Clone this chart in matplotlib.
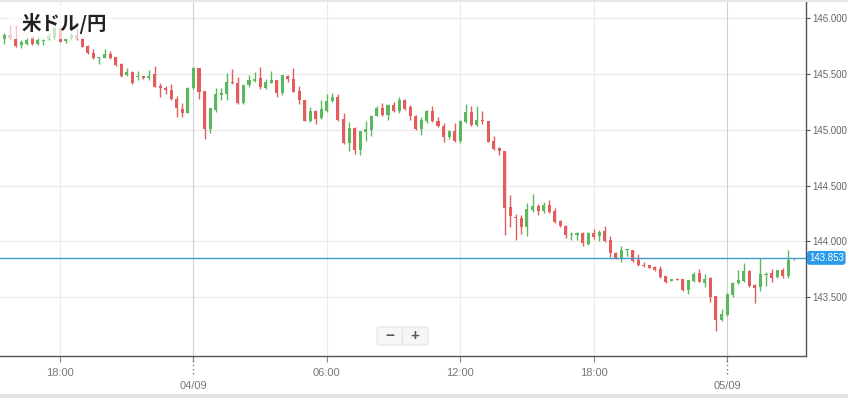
import matplotlib
matplotlib.use("Agg")
import matplotlib.pyplot as plt
import matplotlib.transforms as mtransforms
from matplotlib.patches import Rectangle, FancyBboxPatch

plt.rcParams["font.family"] = ["Liberation Sans", "DejaVu Sans"]

# 15-minute USD/JPY candles, 03/09 15:30 -> 05/09 03:00
opens = [145.812, 145.851, 145.812, 145.758, 145.767, 145.836, 145.770, 145.800, 145.812, 145.821,
         145.910, 145.800, 145.821, 145.851, 145.812, 145.755, 145.692, 145.645, 145.648, 145.680,
         145.651, 145.591, 145.489, 145.522, 145.471, 145.483, 145.463, 145.501, 145.394, 145.373,
         145.358, 145.277, 145.188, 145.155, 145.373, 145.552, 145.349, 145.006, 145.179, 145.313,
         145.319, 145.424, 145.424, 145.239, 145.403, 145.442, 145.463, 145.379, 145.424, 145.449,
         145.330, 145.485, 145.458, 145.350, 145.270, 145.076, 145.165, 145.106, 145.171, 145.255,
         145.291, 145.100, 144.882, 145.016, 144.816, 144.980, 144.995, 145.127, 145.195, 145.135,
         145.225, 145.165, 145.270, 145.201, 145.127, 145.010, 145.076, 145.171, 145.082, 145.037,
         144.932, 144.986, 144.897, 145.067, 145.156, 145.040, 145.091, 145.082, 144.897, 144.837,
         144.811, 144.309, 144.219, 144.213, 144.129, 144.279, 144.315, 144.270, 144.324, 144.270,
         144.180, 144.138, 144.057, 144.060, 144.078, 143.979, 144.078, 144.048, 144.090, 144.009,
         143.899, 143.855, 143.920, 143.926, 143.831, 143.793, 143.787, 143.772, 143.751, 143.689,
         143.650, 143.665, 143.665, 143.565, 143.645, 143.719, 143.624, 143.674, 143.511, 143.298,
         143.337, 143.520, 143.624, 143.645, 143.733, 143.609, 143.594, 143.704, 143.719, 143.683,
         143.742, 143.689, 143.840]
highs = [145.866, 145.940, 145.940, 145.806, 145.836, 145.842, 145.836, 145.812, 145.866, 145.925,
         145.925, 145.821, 145.866, 145.910, 145.836, 145.761, 145.722, 145.651, 145.722, 145.707,
         145.657, 145.603, 145.552, 145.528, 145.531, 145.486, 145.537, 145.573, 145.418, 145.394,
         145.409, 145.304, 145.239, 145.382, 145.567, 145.552, 145.352, 145.194, 145.373, 145.373,
         145.507, 145.546, 145.477, 145.403, 145.492, 145.522, 145.561, 145.454, 145.531, 145.449,
         145.494, 145.494, 145.559, 145.395, 145.270, 145.201, 145.180, 145.270, 145.324, 145.330,
         145.324, 145.150, 145.067, 145.025, 144.992, 145.082, 145.135, 145.210, 145.240, 145.234,
         145.249, 145.291, 145.279, 145.219, 145.135, 145.115, 145.174, 145.210, 145.115, 145.061,
         145.001, 145.061, 145.091, 145.234, 145.210, 145.210, 145.165, 145.082, 144.941, 144.843,
         144.811, 144.414, 144.249, 144.234, 144.348, 144.429, 144.339, 144.354, 144.375, 144.303,
         144.189, 144.150, 144.084, 144.084, 144.084, 144.084, 144.114, 144.105, 144.135, 144.045,
         143.905, 143.958, 143.935, 143.926, 143.884, 143.816, 143.787, 143.778, 143.781, 143.689,
         143.668, 143.671, 143.665, 143.659, 143.727, 143.757, 143.713, 143.683, 143.511, 143.396,
         143.535, 143.639, 143.748, 143.810, 143.742, 143.615, 143.852, 143.727, 143.757, 143.748,
         143.766, 143.920, 143.856]
lows = [145.767, 145.812, 145.746, 145.731, 145.761, 145.761, 145.761, 145.761, 145.806, 145.812,
        145.785, 145.782, 145.815, 145.806, 145.740, 145.680, 145.633, 145.591, 145.642, 145.636,
        145.576, 145.471, 145.483, 145.412, 145.448, 145.460, 145.448, 145.382, 145.292, 145.319,
        145.268, 145.119, 145.113, 145.149, 145.364, 145.277, 144.916, 144.976, 145.164, 145.268,
        145.268, 145.412, 145.233, 145.233, 145.382, 145.433, 145.364, 145.364, 145.418, 145.294,
        145.309, 145.425, 145.338, 145.231, 145.076, 145.070, 145.052, 145.100, 145.159, 145.249,
        145.082, 144.876, 144.807, 144.786, 144.771, 144.897, 144.941, 145.121, 145.129, 145.091,
        145.159, 145.150, 145.180, 145.091, 144.995, 144.950, 145.061, 145.070, 145.022, 144.888,
        144.921, 144.888, 144.882, 145.061, 145.031, 145.031, 145.052, 144.888, 144.822, 144.771,
        144.054, 144.129, 144.009, 144.069, 144.048, 144.264, 144.234, 144.255, 144.258, 144.165,
        144.129, 144.033, 144.015, 144.015, 143.958, 143.973, 144.024, 144.003, 143.994, 143.865,
        143.840, 143.816, 143.869, 143.816, 143.781, 143.772, 143.763, 143.733, 143.677, 143.624,
        143.648, 143.653, 143.559, 143.529, 143.633, 143.633, 143.594, 143.461, 143.201, 143.284,
        143.328, 143.506, 143.618, 143.633, 143.594, 143.452, 143.556, 143.603, 143.633, 143.677,
        143.674, 143.677, 143.838]
closes = [145.851, 145.827, 145.755, 145.785, 145.806, 145.770, 145.806, 145.806, 145.842, 145.910,
          145.791, 145.815, 145.851, 145.812, 145.746, 145.686, 145.642, 145.651, 145.680, 145.642,
          145.582, 145.483, 145.522, 145.418, 145.477, 145.463, 145.486, 145.388, 145.373, 145.358,
          145.277, 145.194, 145.155, 145.373, 145.552, 145.343, 145.006, 145.194, 145.322, 145.328,
          145.433, 145.418, 145.239, 145.403, 145.448, 145.460, 145.382, 145.433, 145.448, 145.330,
          145.488, 145.455, 145.344, 145.270, 145.076, 145.165, 145.100, 145.189, 145.261, 145.291,
          145.091, 144.882, 145.016, 144.816, 144.986, 145.007, 145.127, 145.195, 145.135, 145.225,
          145.165, 145.270, 145.186, 145.121, 145.010, 145.091, 145.165, 145.076, 145.031, 144.932,
          144.986, 144.897, 145.076, 145.156, 145.040, 145.091, 145.076, 144.891, 144.828, 144.807,
          144.300, 144.228, 144.210, 144.129, 144.288, 144.315, 144.270, 144.324, 144.264, 144.174,
          144.135, 144.054, 144.063, 144.078, 143.988, 144.078, 144.039, 144.084, 144.000, 143.895,
          143.852, 143.920, 143.929, 143.825, 143.787, 143.781, 143.766, 143.742, 143.683, 143.639,
          143.668, 143.659, 143.565, 143.653, 143.713, 143.639, 143.668, 143.506, 143.298, 143.349,
          143.529, 143.630, 143.653, 143.733, 143.603, 143.585, 143.707, 143.713, 143.677, 143.742,
          143.689, 143.837, 143.853]

tick_index = [10, 34, 58, 82, 106, 130]
tick_labels = ["18:00", "04/09", "06:00", "12:00", "18:00", "05/09"]
is_date = [False, True, False, False, False, True]
price_ticks = [143.5, 144.0, 144.5, 145.0, 145.5, 146.0]
last_price = 143.853
title = "米ドル/円"

up_color = "#5cb85c"
down_color = "#e35d5d"

fig = plt.figure(figsize=(8.48, 3.98), dpi=100, facecolor="white")
ax = fig.add_axes([0, 42 / 398, 806 / 848, 356 / 398])

x = list(range(len(opens)))
colors = [up_color if c >= o else down_color for o, c in zip(opens, closes)]
bottoms = [min(o, c) for o, c in zip(opens, closes)]
heights = [max(abs(c - o), 0.008) for o, c in zip(opens, closes)]

ax.vlines(x, lows, highs, colors=colors, linewidth=1, zorder=3)
ax.bar(x, heights, bottom=bottoms, width=0.55, color=colors, linewidth=0, zorder=4)

ax.set_xlim(-0.8, 144.2)
ax.set_ylim(142.974, 146.164)

# grid
for p in price_ticks:
    ax.axhline(p, color="#e9e9e9", linewidth=0.8, zorder=1)
for p, d in zip(tick_index, is_date):
    ax.axvline(p, color="#cfcfcf" if d else "#ebebeb", linewidth=0.8, zorder=1)

# current price
ax.axhline(last_price, color="#3f9bcf", linewidth=1, zorder=5)
blend = mtransforms.blended_transform_factory(ax.transAxes, ax.transData)
ax.text(1.0035, last_price, f"{last_price:.3f}", transform=blend, color="white",
        fontsize=7, va="center", ha="left", clip_on=False, zorder=6,
        bbox=dict(boxstyle="round,pad=0.2,rounding_size=0.3", facecolor="#2a9bea", edgecolor="none"))

# spines
for s in ["left", "top"]:
    ax.spines[s].set_visible(False)
for s in ["bottom", "right"]:
    ax.spines[s].set_color("#555555")
    ax.spines[s].set_linewidth(1)

ax.yaxis.tick_right()
ax.set_yticks(price_ticks)
ax.set_yticklabels([f"{p:.3f}" for p in price_ticks])
ax.tick_params(axis="y", length=3, color="#555555", labelcolor="#666666", labelsize=7, pad=1.5)

ax.set_xticks(tick_index)
ax.set_xticklabels([lbl if not d else "" for lbl, d in zip(tick_labels, is_date)])
ax.tick_params(axis="x", length=4, color="#888888", labelcolor="#777777", labelsize=8, pad=5)

xblend = mtransforms.blended_transform_factory(ax.transData, ax.transAxes)
for p, lbl, d in zip(tick_index, tick_labels, is_date):
    if d:
        ax.plot([p, p], [0, -0.06], transform=xblend, color="#777777", linewidth=1,
                linestyle=(0, (1, 2)), clip_on=False)
        ax.text(p, -0.085, lbl, transform=xblend, ha="center", va="center",
                fontsize=8, color="#777777", clip_on=False)

# title with translucent backing
ax.add_patch(Rectangle((8 / 806, (356 - 39) / 356), 102 / 806, 34 / 356, transform=ax.transAxes,
                       facecolor="white", alpha=0.65, edgecolor="none", zorder=7))
fig.text(21 / 848, 1 - 24 / 398, title, fontsize=14, fontweight="bold", color="#222222",
         family=["Noto Sans CJK JP", "DejaVu Sans"], va="center", ha="left", zorder=8)

# zoom buttons
fig.patches.append(FancyBboxPatch((377 / 848, 53 / 398), 51 / 848, 18 / 398,
                                  boxstyle="round,pad=0,rounding_size=0.004",
                                  transform=fig.transFigure, facecolor="#f6f6f6",
                                  edgecolor="#e4e4e4", linewidth=0.8, zorder=9))
fig.add_artist(plt.Line2D([402 / 848, 402 / 848], [55 / 398, 69 / 398], transform=fig.transFigure,
                          color="#e2e2e2", linewidth=0.8, zorder=10))
fig.text(389.5 / 848, 62 / 398, "−", fontsize=11, fontweight="bold", color="#555555",
         ha="center", va="center", zorder=10)
fig.text(415 / 848, 62 / 398, "+", fontsize=11, fontweight="bold", color="#555555",
         ha="center", va="center", zorder=10)

# frame bands
fig.patches.append(Rectangle((0, 0), 1, 4 / 398, transform=fig.transFigure,
                             facecolor="#e3e3e3", edgecolor="none"))
fig.patches.append(Rectangle((0, 1 - 1.5 / 398), 1, 1.5 / 398, transform=fig.transFigure,
                             facecolor="#e6e6e6", edgecolor="none"))

fig.savefig("out.png", dpi=100, facecolor="white")
